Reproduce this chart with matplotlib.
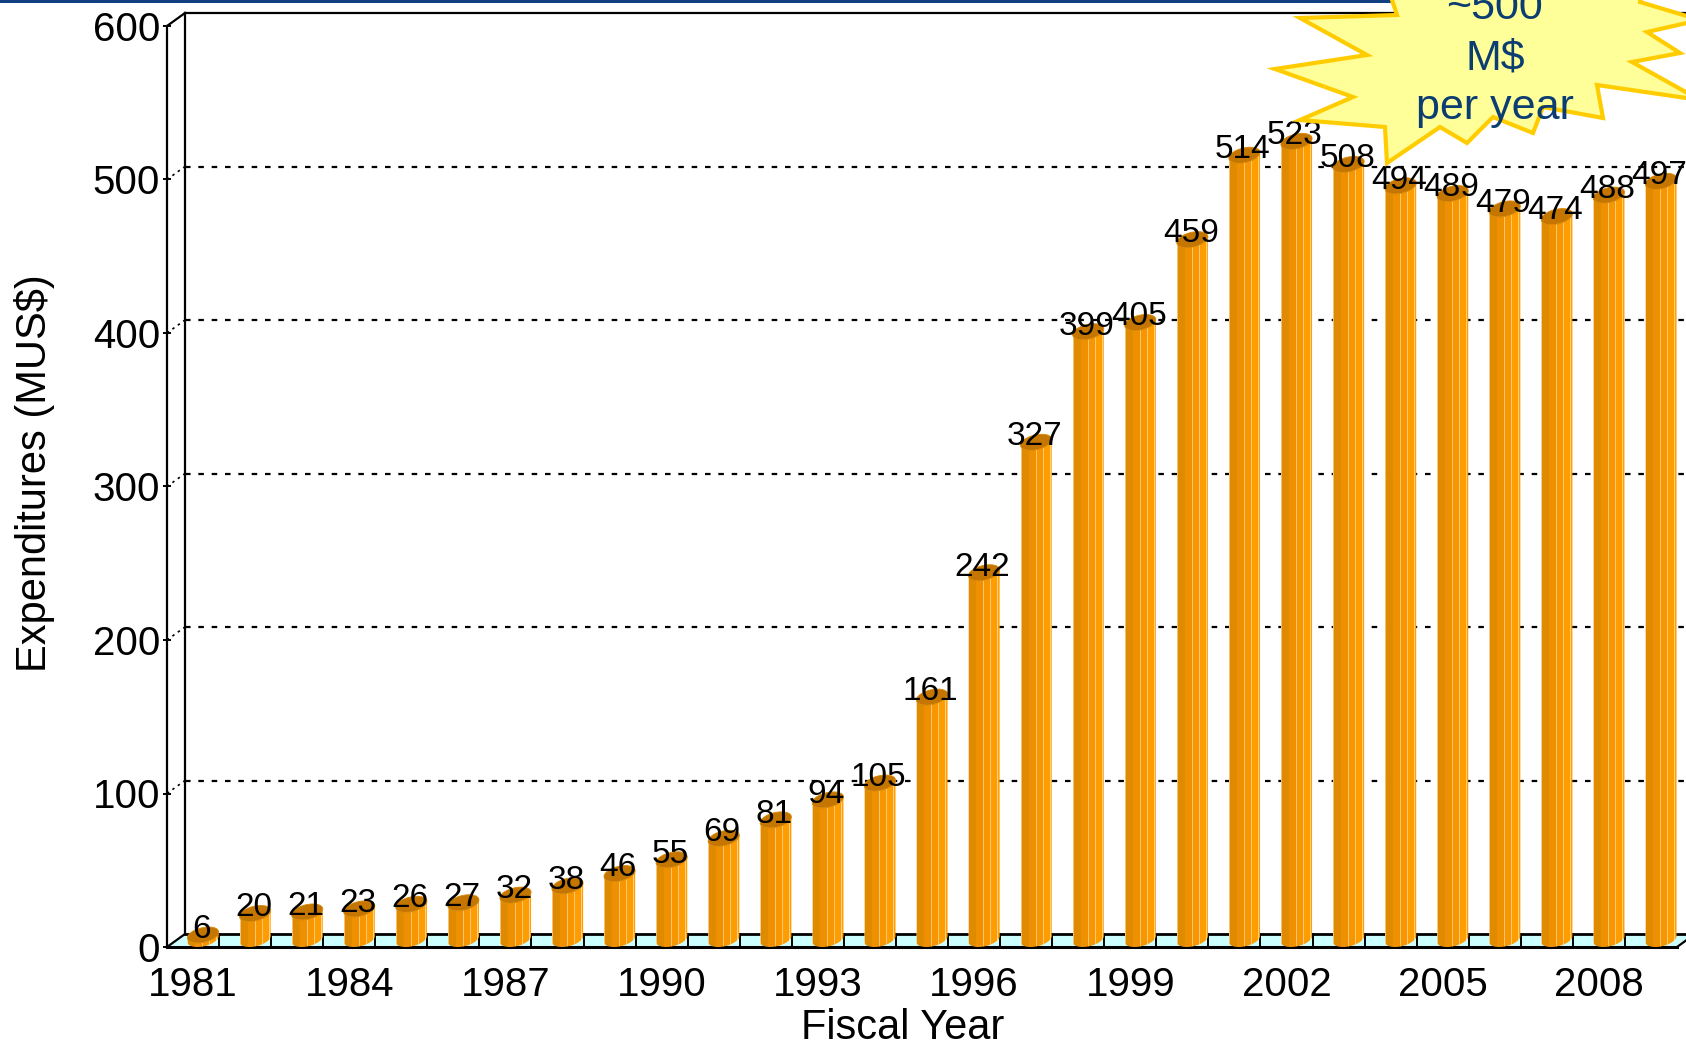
import numpy as np
import matplotlib
matplotlib.use("Agg")
import matplotlib.pyplot as plt
from matplotlib.patches import Polygon, Rectangle
from matplotlib.lines import Line2D
from matplotlib.colors import to_rgb

# ---------------- data ----------------
years = list(range(1981, 2010))
expenditures = [6, 20, 21, 23, 26, 27, 32, 38, 46, 55, 69, 81, 94, 105, 161,
                242, 327, 399, 405, 459, 514, 523, 508, 494, 489, 479, 474, 488, 497]
xtick_years = list(range(1981, 2010, 3))
yticks = [0, 100, 200, 300, 400, 500, 600]
x_label = "Fiscal Year"
y_label = "Expenditures (MUS$)"
callout_text = "~500\nM$\nper year"

# ---------------- figure ----------------
plt.rcParams['font.family'] = ['Liberation Sans', 'DejaVu Sans']
W, H = 1686, 1048
fig = plt.figure(figsize=(W / 100, H / 100), dpi=100)
fig.patch.set_facecolor('white')

ax_l, ax_r, ax_b, ax_t = 167, 1677, 947, 26
ax = fig.add_axes([ax_l / W, 1 - ax_b / H, (ax_r - ax_l) / W, (ax_b - ax_t) / H])
x0, x1 = years[0] - 0.5, years[-1] + 0.5
y0, y1 = yticks[0], yticks[-1]
ax.set_xlim(x0, x1)
ax.set_ylim(y0, y1)
ax.set_facecolor('none')

px_x = (ax_r - ax_l) / (x1 - x0)      # px per year
px_y = (ax_b - ax_t) / (y1 - y0)      # px per unit

# depth vector (oblique 3-D look)
DX = 18 / px_x
DY = 13 / px_y

# floor
floor = Polygon([(x0, 0), (x1, 0), (x1 + DX, DY), (x0 + DX, DY)], closed=True,
                facecolor='#CCFFFF', edgecolor='none', zorder=1, clip_on=False)
ax.add_patch(floor)
ax.add_line(Line2D([x0 + DX, x1 + DX], [DY, DY], color='black', lw=2.0, zorder=1.5, clip_on=False))
ax.add_line(Line2D([x0, x0 + DX], [0, DY], color='black', lw=1.6, zorder=1.5, clip_on=False))
ax.add_line(Line2D([x1, x1 + DX], [0, DY], color='black', lw=1.6, zorder=1.5, clip_on=False))
for yr in years[:-1]:
    ax.add_line(Line2D([yr + 0.5, yr + 0.5], [0, DY], color='black', lw=1.4, zorder=1.5, clip_on=False))

# back wall
ax.add_line(Line2D([x0 + DX, x0 + DX], [DY, y1 + DY], color='black', lw=1.6, zorder=1.5, clip_on=False))
ax.add_line(Line2D([x0 + DX, x1 + DX], [y1 + DY, y1 + DY], color='black', lw=1.6, zorder=1.5, clip_on=False))
ax.add_line(Line2D([x0, x0 + DX], [y1, y1 + DY], color='black', lw=1.6, zorder=1.5, clip_on=False))
for v in yticks[1:-1]:
    ax.add_line(Line2D([x0 + DX, x1 + DX], [v + DY, v + DY], color='black', lw=1.6,
                       ls=(0, (2.5, 3.5)), zorder=1.2, clip_on=False))
    ax.add_line(Line2D([x0, x0 + DX], [v, v + DY], color='black', lw=1.2,
                       ls=(0, (1.5, 2.5)), zorder=1.2, clip_on=False))

# cylinders
off = 10 / px_x
a = 14.5 / px_x
bx = 5.7 / px_x
by = 8.0 / px_y
R = np.hypot(a, bx)
t0 = np.arctan2(bx, a)
stripe_spec = [(0.04, '#F2C27A'), (0.24, '#E08A00'), (0.48, '#EF9000'), (0.51, '#FBC46E'),
               (0.70, '#F79600'), (0.73, '#FCC878'), (0.92, '#FE9D00'), (0.95, '#FFD08A'),
               (1.00, '#FFA000')]
ncol = 200
cols = []
for i in range(ncol):
    f = (i + 0.5) / ncol
    for end, c in stripe_spec:
        if f <= end:
            cols.append(to_rgb(c))
            break
stripe_img = np.array(cols)[None, :, :]


def ell(cx, cy, t):
    return cx + a * np.cos(t) + bx * np.sin(t), cy + by * np.sin(t)


tf = np.linspace(t0 + np.pi, t0 + 2 * np.pi, 60)
tall = np.linspace(0, 2 * np.pi, 80)
for yr, v in zip(years, expenditures):
    cx = yr + off
    yb = by
    yt = v + 0.35 * by
    bxs, bys = ell(cx, yb, tf)
    txs, tys = ell(cx, yt, tf[::-1])
    body = Polygon(np.column_stack([np.r_[bxs, txs], np.r_[bys, tys]]), closed=True,
                   facecolor='none', edgecolor='none', zorder=3)
    ax.add_patch(body)
    im = ax.imshow(stripe_img, extent=(cx - R, cx + R, 0, yt + 2 * by), aspect='auto',
                   interpolation='nearest', zorder=3)
    im.set_clip_path(body)
    exs, eys = ell(cx, yt, tall)
    ax.add_patch(Polygon(np.column_stack([exs, eys]), closed=True, facecolor='#C47600',
                         edgecolor='#D88600', lw=0.6, zorder=3.5))
    ax.text(cx - 1.5 / px_x, v, str(v), ha='center', va='baseline', fontsize=24, color='black', zorder=4)

ax.set_xlim(x0, x1)
ax.set_ylim(y0, y1)
ax.set_aspect('auto')

# axes / ticks
for s in ['top', 'right']:
    ax.spines[s].set_visible(False)
ax.spines['left'].set_linewidth(1.6)
ax.spines['bottom'].set_linewidth(2.2)
ax.spines['left'].set_zorder(2)
ax.spines['bottom'].set_zorder(2)
ax.set_yticks(yticks)
ax.set_yticklabels([str(v) for v in yticks])
ax.set_xticks(xtick_years)
ax.set_xticklabels([str(y) for y in xtick_years])
ax.tick_params(axis='y', direction='inout', length=6, width=1.4, pad=2, labelsize=29)
ax.tick_params(axis='x', length=0, pad=14, labelsize=29)

fig.text(35 / W, 1 - 473 / H, y_label, rotation=90, ha='center', va='center', fontsize=30)
fig.text(903 / W, 1 - 1028 / H, x_label, ha='center', va='center', fontsize=30)

# top band
fig.add_artist(Rectangle((0, 1 - 3 / H), 1400 / W, 3 / H, transform=fig.transFigure,
                         facecolor='#123E82', edgecolor='none', zorder=4))

# starburst call-out
star_px = [(1380, -36), (1397, 15), (1300, 18), (1367, 55), (1275, 69), (1353, 97),
           (1300, 120), (1385, 127), (1387, 163), (1440, 127), (1467, 143), (1493, 117),
           (1533, 133), (1543, 107), (1603, 118), (1597, 85), (1700, 100), (1632, 62),
           (1680, 53), (1647, 32), (1700, 20), (1640, 2), (1650, -60), (1490, -20)]
star = Polygon([(x / W, 1 - y / H) for x, y in star_px], closed=True, transform=fig.transFigure,
               facecolor='#FFFF99', edgecolor='#FFCC00', lw=3, zorder=5, joinstyle='miter')
fig.add_artist(star)
fig.text(1495 / W, 1 - 58 / H, callout_text, ha='center', va='center', fontsize=31,
         color='#0B3D72', linespacing=1.33, zorder=6)

fig.savefig('out.png', dpi=100)
